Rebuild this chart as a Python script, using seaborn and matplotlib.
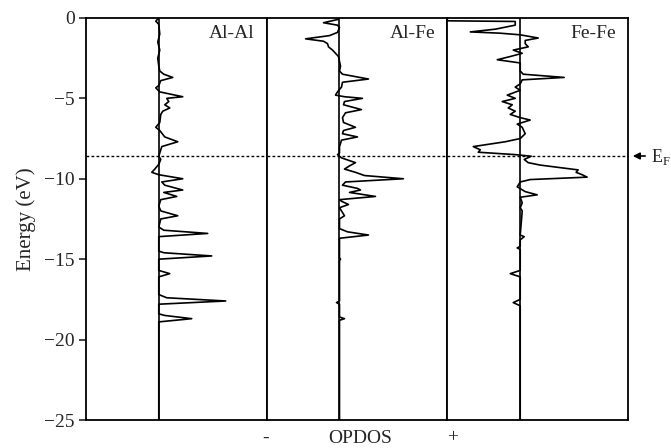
import matplotlib
matplotlib.use("Agg")
import matplotlib.pyplot as plt
import pandas as pd
import seaborn as sns

panel_names = ["Al-Al", "Al-Fe", "Fe-Fe"]
yticks = [0, -5, -10, -15, -20, -25]
fermi_level = -8.6

alal_energy = [0, -0.2, -0.4, -1.0, -1.5, -2.0, -2.5, -3.0, -3.3, -3.5, -3.7, -3.9, -4.2, -4.35, -4.6,
               -4.9, -5.0, -5.2, -5.4, -5.6, -5.8, -6.0, -6.5, -6.8, -7.0, -7.4, -7.7, -8.0, -8.4,
               -8.6, -8.8, -9.1, -9.4, -9.6, -9.75, -10.0, -10.2, -10.4, -10.7, -10.85, -11.1, -11.3,
               -11.7, -12.0, -12.3, -12.5, -13.0, -13.2, -13.4, -13.6, -14.5, -14.6, -14.8, -15.0,
               -15.7, -15.9, -16.1, -17.2, -17.4, -17.6, -17.8, -18.4, -18.5, -18.7, -18.9, -19.2, -25]
alal_opdos = [0, -3, 0, 1, -1, 1, -1, 0, 1, 5, 14, 2, 0, -3, 1,
              24, 8, 10, 6, 11, 4, 2, 1, -3, 1, 6, 19, 3, 1,
              0, 2, 0, -4, -7, 0, 24, 3, 6, 24, 5, 18, 2,
              0, 2, 19, 2, 0, 5, 49, 0, 0, 5, 53, 0,
              0, 11, 0, 0, 8, 67, 0, 0, 6, 33, 0, 0, 0]

alfe_energy = [0, -0.1, -0.3, -0.45, -0.6, -0.9, -1.1, -1.3, -1.45, -1.6, -1.8, -2.0, -2.2, -2.4,
               -2.7, -3.0, -3.3, -3.5, -3.8, -4.0, -4.3, -4.6, -4.8, -4.9, -5.0, -5.2, -5.4, -5.7,
               -5.9, -6.2, -6.5, -6.8, -7.0, -7.2, -7.4, -7.6, -8.0, -8.4, -8.5, -8.7, -9.0, -9.2,
               -9.4, -9.6, -9.8, -10.0, -10.2, -10.4, -10.6, -10.7, -10.85, -11.1, -11.3, -11.4,
               -11.6, -11.8, -12.0, -12.3, -12.5, -13.1, -13.3, -13.5, -13.7, -14.9, -15.0, -15.1,
               -17.6, -17.7, -17.8, -18.6, -18.7, -18.8, -25]
alfe_opdos = [0, -2, -16, -2, 0, -2, -10, -34, -16, -12, -11, -7, -4, -1,
              0, 1, 0, 3, 29, 3, 2, -2, -4, 5, 23, 5, 4, 22,
              6, 3, 4, 16, 4, 3, 18, 2, 0, 0, -2, 2, 16, 10,
              5, 16, 25, 64, 6, 3, 18, 21, 10, 36, 0, 2,
              9, 0, 2, 5, 0, 0, 8, 29, 0, 0, 1, 0,
              0, -3, 0, 0, 5, 0, 0]

fefe_energy = [0, -0.18, -0.22, -0.45, -0.7, -0.87, -0.95, -1.05, -1.25, -1.4, -1.6, -1.8, -2.0,
               -2.2, -2.4, -2.6, -2.8, -3.3, -3.5, -3.7, -3.85, -4.1, -4.3, -4.5, -4.8, -5.0, -5.2,
               -5.4, -5.6, -5.8, -6.0, -6.2, -6.35, -6.6, -6.8, -7.2, -7.5, -7.7, -8.0, -8.2, -8.35,
               -8.5, -8.6, -8.8, -9.0, -9.15, -9.45, -9.6, -9.75, -9.9, -10.05, -10.2, -10.5, -10.8,
               -11.0, -11.15, -11.5, -11.8, -12.0, -13.5, -13.6, -13.8, -14.2, -14.3, -14.4, -15.7,
               -15.9, -16.1, -17.5, -17.7, -17.9, -25]
fefe_opdos = [-73, -73, -5, -5, -25, -50, -20, 0, 18, 5, 5, 8, -7,
              2, -10, -23, 0, 0, 3, 44, 2, 0, -5, 0, -13, -5, -18,
              -8, -12, -5, -10, 0, 10, -3, 2, 5, 0, -15, -47, -40, -42,
              -5, 11, 4, 8, 20, 58, 56, 62, 67, 10, 0, -3, 5,
              17, 0, 2, 0, 2, 0, 4, 0, 0, -3, 0, 0,
              -10, 0, 0, -7, 0, 0]

energies = [alal_energy, alfe_energy, fefe_energy]
values = [alal_opdos, alfe_opdos, fefe_opdos]

sns.set_style("ticks")
plt.rcParams["font.family"] = ["Liberation Serif", "DejaVu Serif"]
plt.rcParams["mathtext.fontset"] = "custom"
plt.rcParams["mathtext.rm"] = "Liberation Serif"
plt.rcParams["axes.linewidth"] = 1.3

fig, axes = plt.subplots(1, 3, sharey=True, figsize=(6.71, 4.48), dpi=100)
fig.subplots_adjust(left=0.128, right=0.936, top=0.96, bottom=0.0625, wspace=0)

for ax, name, E, V in zip(axes, panel_names, energies, values):
    df = pd.DataFrame({"energy": E, "opdos": V})
    ax.axvline(0, color="black", lw=1.2, zorder=2)
    ax.axhline(fermi_level, color="black", lw=1.0, ls=(0, (2, 1.6)), zorder=1)
    sns.lineplot(data=df, x="opdos", y="energy", sort=False, estimator=None,
                 color="black", lw=1.2, ax=ax, zorder=3)
    ax.set_xlim(-73, 108)
    ax.set_xticks([])
    ax.set_xlabel("")
    ax.set_ylabel("")
    ax.text(0.935, 0.982, name, transform=ax.transAxes, ha="right", va="top", fontsize=14)
    for s in ax.spines.values():
        s.set_color("black")
    ax.tick_params(axis="y", length=0 if ax is not axes[0] else 5, width=1.2, direction="out", pad=3)

axes[0].set_ylim(-25, 0)
axes[0].set_yticks(yticks)
axes[0].set_yticklabels([("\u2212" + str(-t)) if t < 0 else str(t) for t in yticks], fontsize=14)
axes[0].set_ylabel("Energy (eV)", fontsize=15, labelpad=6)

fig.text(266 / 671, 1 - 438 / 448, "-", ha="center", va="center", fontsize=14)
fig.text(360 / 671, 1 - 438 / 448, "OPDOS", ha="center", va="center", fontsize=14)
fig.text(453 / 671, 1 - 438 / 448, "+", ha="center", va="center", fontsize=14)

fig.patches.append(matplotlib.patches.FancyArrowPatch(
    (648 / 671, 1 - 156 / 448), (630 / 671, 1 - 156 / 448), transform=fig.transFigure,
    arrowstyle="-|>", mutation_scale=10, color="black", lw=1.2))
fig.text(651 / 671, 1 - 157 / 448, r"E$_\mathrm{F}$", ha="left", va="center", fontsize=13)

fig.savefig("out.png", dpi=100)
